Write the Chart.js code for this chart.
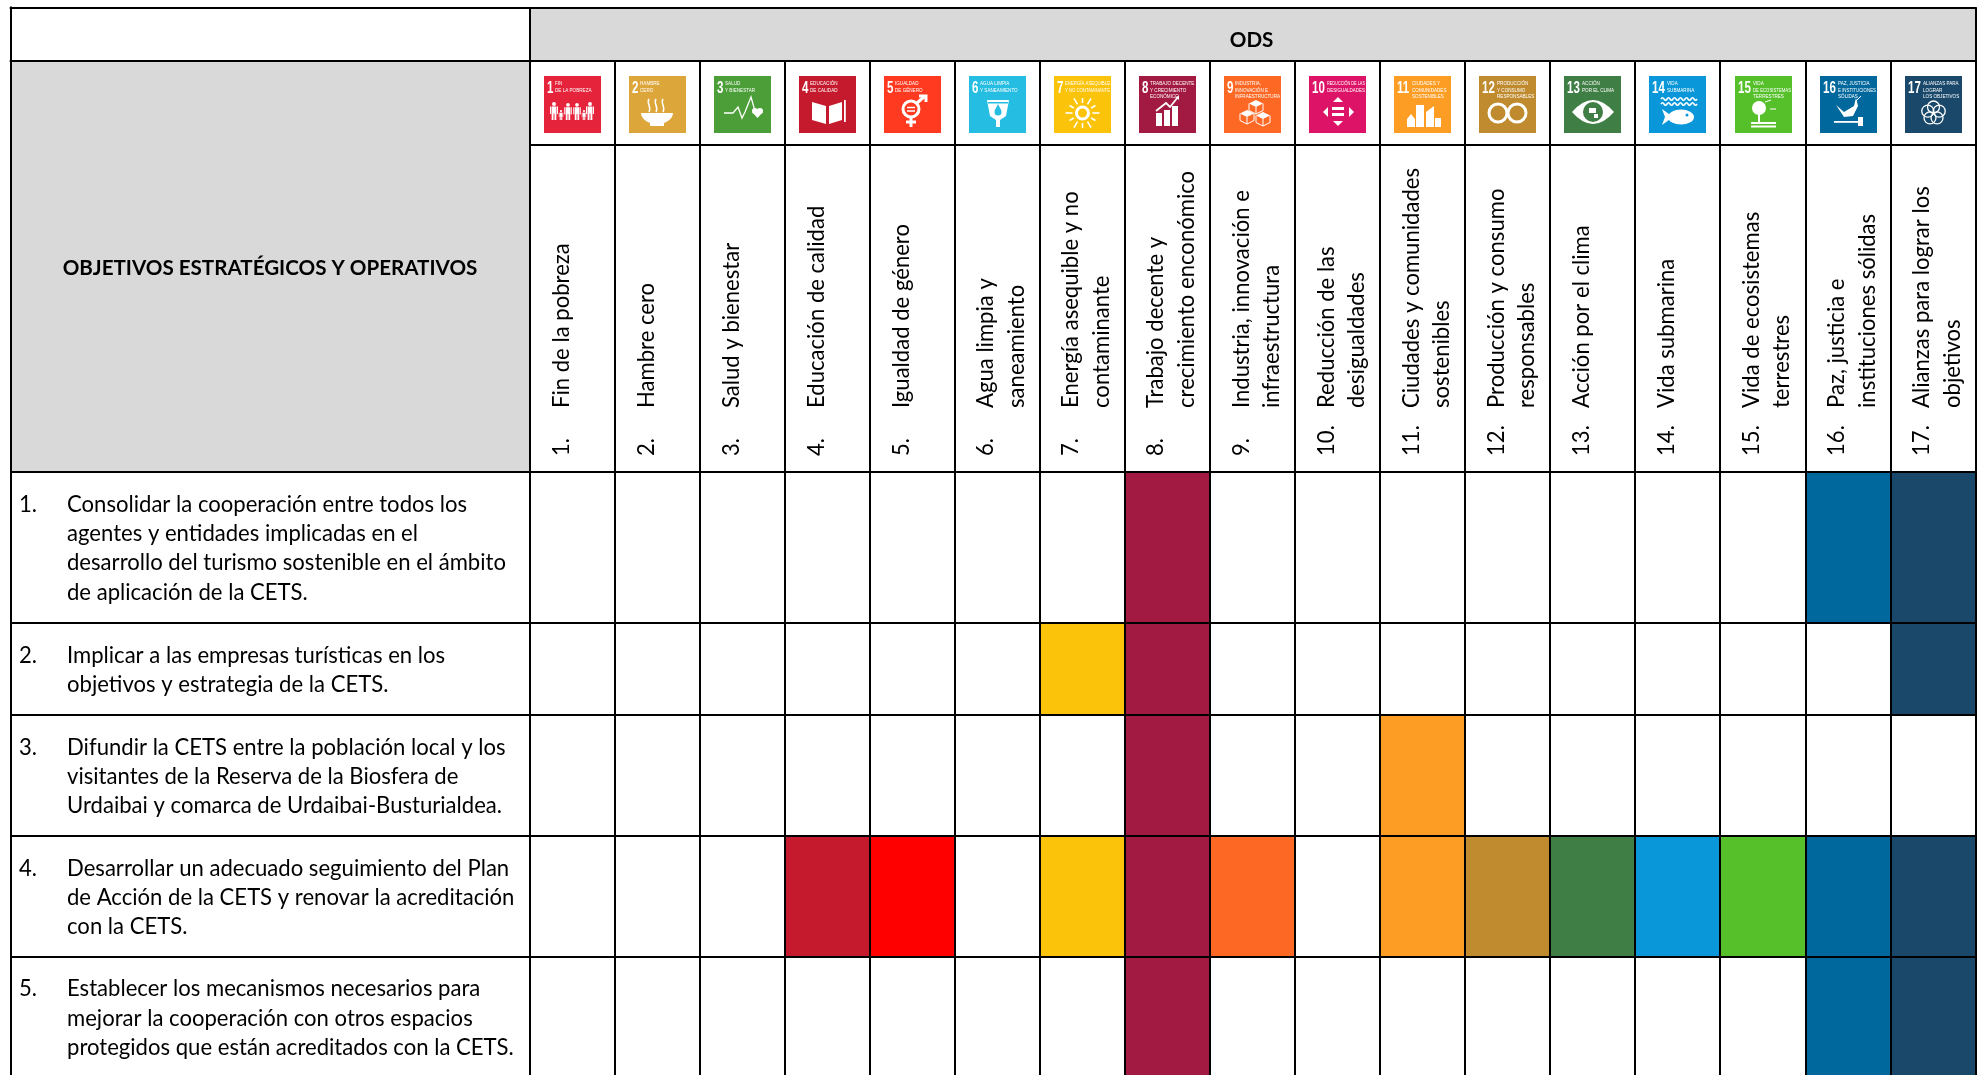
<!DOCTYPE html>
<html lang="es">
<head>
<meta charset="utf-8">
<title>ODS y objetivos estratégicos</title>
<style>html,body{margin:0;padding:0;background:#fff}canvas{display:block}</style>
<script src="https://cdn.jsdelivr.net/npm/chart.js@4"></script>
</head>
<body>
<canvas id="c" width="1981" height="1075"></canvas>
<script>
const goalNumbers = ['1','2','3','4','5','6','7','8','9','10','11','12','13','14','15','16','17'];
const goalNames = [
  ['Fin de la pobreza'],['Hambre cero'],['Salud y bienestar'],['Educación de calidad'],['Igualdad de género'],
  ['Agua limpia y','saneamiento'],['Energía asequible y no','contaminante'],['Trabajo decente y','crecimiento enconómico'],
  ['Industria, innovación e','infraestructura'],['Reducción de las','desigualdades'],['Ciudades y comunidades','sostenibles'],
  ['Producción y consumo','responsables'],['Acción por el clima'],['Vida submarina'],['Vida de ecosistemas','terrestres'],
  ['Paz, justicia e','instituciones sólidas'],['Alianzas para lograr los','objetivos']
];
const iconLabels = [
  ['FIN','DE LA POBREZA'],['HAMBRE','CERO'],['SALUD','Y BIENESTAR'],['EDUCACIÓN','DE CALIDAD'],['IGUALDAD','DE GÉNERO'],
  ['AGUA LIMPIA','Y SANEAMIENTO'],['ENERGÍA ASEQUIBLE','Y NO CONTAMINANTE'],['TRABAJO DECENTE','Y CRECIMIENTO','ECONÓMICO'],
  ['INDUSTRIA,','INNOVACIÓN E','INFRAESTRUCTURA'],['REDUCCIÓN DE LAS','DESIGUALDADES'],['CIUDADES Y','COMUNIDADES','SOSTENIBLES'],
  ['PRODUCCIÓN','Y CONSUMO','RESPONSABLES'],['ACCIÓN','POR EL CLIMA'],['VIDA','SUBMARINA'],['VIDA','DE ECOSISTEMAS','TERRESTRES'],
  ['PAZ, JUSTICIA','E INSTITUCIONES','SÓLIDAS'],['ALIANZAS PARA','LOGRAR','LOS OBJETIVOS']
];
const iconColors = ['#E5243B','#DDA63A','#4C9F38','#C5192D','#FF3A21','#26BDE2','#FCC30B','#A21942','#FD6925','#DD1367','#FD9D24','#BF8B2E','#3F7E44','#0A97D9','#56C02B','#00689D','#19486A'];
const cellColors = ['#E5243B','#DDA63A','#4C9F38','#C5192D','#FF0000','#26BDE2','#FCC30B','#A21942','#FD6925','#DD1367','#FD9D24','#BF8B2E','#3F7E44','#0A97D9','#56C02B','#00689D','#19486A'];
const objectiveLines = [
  ['Consolidar la cooperación entre todos los','agentes y entidades implicadas en el','desarrollo del turismo sostenible en el ámbito','de aplicación de la CETS.'],
  ['Implicar a las empresas turísticas en los','objetivos y estrategia de la CETS.'],
  ['Difundir la CETS entre la población local y los','visitantes de la Reserva de la Biosfera de','Urdaibai y comarca de Urdaibai-Busturialdea.'],
  ['Desarrollar un adecuado seguimiento del Plan','de Acción de la CETS y renovar la acreditación','con la CETS.'],
  ['Establecer los mecanismos necesarios para','mejorar la cooperación con otros espacios','protegidos que están acreditados con la CETS.']
];
const rowHeights = [151, 92.3, 121, 120.7, 121];
const visibleHeight = 603.3;
const objective1Goals = [8,16,17];
const objective2Goals = [7,8,17];
const objective3Goals = [8,11];
const objective4Goals = [4,5,7,8,9,11,12,13,14,15,16,17];
const objective5Goals = [8,16,17];
const objectiveGoals = [objective1Goals,objective2Goals,objective3Goals,objective4Goals,objective5Goals];
const odsTitle = 'ODS';
const sideTitle = 'OBJETIVOS ESTRATÉGICOS Y OPERATIVOS';

const rowEdges = rowHeights.reduce((a,h)=>{a.push(a[a.length-1]+h);return a;},[0]);
const BODY_FONT = '22.1px Lato';
const BOLD_FONT = 'bold 20.6px Lato';

function poly(c,pts,fill){c.beginPath();pts.forEach((p,i)=>i?c.lineTo(p[0],p[1]):c.moveTo(p[0],p[1]));if(fill){c.closePath();c.fill();}else c.stroke();}
function person(c,x,top,h){const r=h*.11,w=h*.13;c.beginPath();c.arc(x,top+r,r,0,7);c.fill();c.fillRect(x-w,top+2*r+.5,2*w,h*.4);c.fillRect(x-w,top+2*r+h*.4,w*.8,h*.38);c.fillRect(x+w*.2,top+2*r+h*.4,w*.8,h*.38);c.fillRect(x-w*1.7,top+2*r+.5,w*.5,h*.42);c.fillRect(x+w*1.2,top+2*r+.5,w*.5,h*.42);}
function ring(c,x,y,r,lw){c.lineWidth=lw;c.beginPath();c.arc(x,y,r,0,7);c.stroke();}
const iconGlyphs = [
 c=>{person(c,10,26,18);person(c,17,34,10);person(c,24,27,17);person(c,33,27,17);person(c,40,34,10);person(c,46,26,18);},
 c=>{c.lineWidth=1.5;[20,27,34].forEach(x=>{c.beginPath();c.moveTo(x,23);c.bezierCurveTo(x-3,27,x+3,31,x,36);c.stroke();});
     c.beginPath();c.ellipse(28,37,16,11,0,0,Math.PI);c.fill();c.fillRect(21,46,14,4);},
 (c,col)=>{c.lineWidth=1.3;poly(c,[[10,37],[19,37],[24,31],[28,42],[31,36],[37,21],[41,35]]);c.beginPath();c.arc(41,35,3,0,7);c.arc(46,35,3,0,7);c.fill();poly(c,[[38,36],[49,36],[43.5,42]],true);},
 c=>{c.lineWidth=1.4;poly(c,[[13,26],[27,30],[27,48],[13,44]],true);poly(c,[[30,30],[43,26],[43,44],[30,48]],true);c.fillStyle='#C5192D';c.fillRect(27,30,3,18);c.fillStyle='#fff';c.fillRect(45,24,1.8,22);},
 c=>{ring(c,27,33,8,3);c.lineWidth=3;poly(c,[[27,41],[27,51]]);poly(c,[[22,46],[32,46]]);poly(c,[[33,27],[41,20]]);poly(c,[[35,20],[42,20],[42,26]]);c.lineWidth=1.5;poly(c,[[23,31.5],[31,31.5]]);poly(c,[[23,35],[31,35]]);},
 (c)=>{poly(c,[[18,24],[40,24],[37,40],[31,44],[31,51],[27,51],[27,44],[21,40]],true);c.fillStyle='#26BDE2';c.fillRect(19,26,20,1.5);c.beginPath();c.arc(29,36,3.5,0,7);c.fill();poly(c,[[29,28],[26,34],[32,34]],true);},
 c=>{ring(c,28.5,37,6,3);c.lineWidth=1.6;for(let i=0;i<12;i++){const a=i*Math.PI/6;poly(c,[[28.5+10*Math.cos(a),37+10*Math.sin(a)],[28.5+(i%2?15:17)*Math.cos(a),37+(i%2?15:17)*Math.sin(a)]]);}},
 c=>{c.fillRect(17,37,6,13);c.fillRect(25,34,6,16);c.fillRect(33,30,6,20);c.lineWidth=1.8;poly(c,[[17,35],[27,27],[31,31],[39,21]]);poly(c,[[36,21],[40,20],[40,24]],true);},
 c=>{c.lineWidth=1;const cube=(x,y,s)=>{poly(c,[[x,y-s],[x+s,y-s/2],[x,y],[x-s,y-s/2]],true);poly(c,[[x-s,y-s/2],[x-s,y+s/2],[x,y+s],[x+s,y+s/2],[x+s,y-s/2]]);poly(c,[[x,y],[x,y+s]]);};cube(32,31,7);cube(23,41,7);cube(39,43,7);},
 c=>{poly(c,[[29,21],[24,26],[34,26]],true);poly(c,[[29,50],[24,45],[34,45]],true);poly(c,[[14,36],[19,31],[19,41]],true);poly(c,[[45,36],[40,31],[40,41]],true);c.fillRect(23,31,12,3);c.fillRect(23,37,12,3);},
 c=>{c.fillRect(22,29,8,22);c.fillRect(32,36,8,15);c.fillRect(41,42,6,9);c.fillRect(13,43,8,8);poly(c,[[13,43],[17,38],[21,43]],true);poly(c,[[32,36],[40,30],[40,36]],true);},
 c=>{ring(c,19,37,9,3);ring(c,38,37,9,3);},
 (c)=>{c.beginPath();c.moveTo(8,36);c.quadraticCurveTo(29,12,50,36);c.quadraticCurveTo(29,60,8,36);c.fill();c.fillStyle='#3F7E44';c.beginPath();c.arc(29,36,10,0,7);c.fill();c.fillStyle='#fff';c.fillRect(25,32,7,5);c.fillRect(30,38,4,4);},
 (c)=>{c.lineWidth=1.6;[23,28].forEach(y=>{c.beginPath();c.moveTo(12,y);for(let x=12;x<44;x+=6)c.quadraticCurveTo(x+1.5,y-2.5,x+3,y),c.quadraticCurveTo(x+4.5,y+2.5,x+6,y);c.stroke();});
     c.beginPath();c.ellipse(32,41,13,7.5,0,0,7);c.fill();poly(c,[[13,33],[24,41],[13,49],[16,41]],true);c.fillStyle='#0A97D9';c.beginPath();c.arc(38,39,1.5,0,7);c.fill();},
 c=>{c.beginPath();c.arc(24,32,7,0,7);c.fill();c.fillRect(23,36,2,10);c.fillRect(16,46,25,2);c.fillRect(16,49.5,25,2);c.lineWidth=1;poly(c,[[30,26],[36,24]]);poly(c,[[35,33],[41,33]]);},
 c=>{poly(c,[[16,29],[24,36],[34,30],[36,22],[38,30],[33,40],[24,41]],true);c.fillRect(14,45,24,1.8);c.fillRect(38,41,5,9);c.lineWidth=1;poly(c,[[35,26],[41,20]]);},
 c=>{for(let i=0;i<5;i++){const a=-Math.PI/2+i*2*Math.PI/5;ring(c,28.5+6*Math.cos(a),37+6*Math.sin(a),6,1.3);}}
];

function hRule(ctx,x0,x1,y){ctx.fillRect(x0,Math.round(y)-1,x1-x0,2);}
function vRule(ctx,x,y0,y1){ctx.fillRect(Math.round(x)-1,y0,2,y1-y0);}

const tablePlugin = {
  id:'table',
  beforeDatasetsDraw(chart){
    const {ctx,chartArea:a}=chart;
    ctx.save();
    ctx.fillStyle='#D9D9D9';
    ctx.fillRect(a.left,7.5,a.right-a.left,53.5);
    ctx.fillRect(10.7,61,a.left-10.7,a.top-61);
    ctx.restore();
  },
  afterDraw(chart){
    const {ctx,chartArea:a,scales:{x,y}}=chart;
    const L=10.7, cw=(a.right-a.left)/goalNumbers.length, T=[7.5,61,144.5];
    ctx.save();
    ctx.fillStyle='#000';
    hRule(ctx,L-1,a.right+1,T[0]);hRule(ctx,L-1,a.right+1,T[1]);hRule(ctx,a.left,a.right+1,T[2]);
    vRule(ctx,L,T[0]-1,chart.height);vRule(ctx,a.left,T[0],a.top);vRule(ctx,a.right,T[0],a.top);
    goalNumbers.forEach((_,i)=>{vRule(ctx,x.getPixelForValue(i)+cw/2,T[1],a.top);});
    rowEdges.slice(0,-1).forEach(v=>hRule(ctx,L,a.left,y.getPixelForValue(v)));
    ctx.textBaseline='alphabetic';
    ctx.font=BOLD_FONT;ctx.textAlign='center';
    ctx.fillText(odsTitle,(a.left+a.right)/2-1,47);
    ctx.fillText(sideTitle,270,275);
    ctx.textAlign='left';ctx.font=BODY_FONT;
    objectiveLines.forEach((lines,r)=>{
      const c=y.getPixelForValue((rowEdges[r]+rowEdges[r+1])/2);
      lines.forEach((t,j)=>{
        const b=c+(j-(lines.length-1)/2)*29.3+8.5;
        if(j===0)ctx.fillText((r+1)+'.',19,b);
        ctx.fillText(t,67,b);
      });
    });
    goalNumbers.forEach((n,i)=>{
      const cx=x.getPixelForValue(i), left=cx-cw/2;
      ctx.save();
      ctx.translate(Math.round(cx-28.5),76);
      ctx.fillStyle=iconColors[i];ctx.fillRect(0,0,57,57);
      ctx.fillStyle='#fff';ctx.strokeStyle='#fff';ctx.lineCap='butt';
      ctx.textAlign='left';
      ctx.save();ctx.translate(3,17);ctx.scale(.72,1);
      ctx.font='bold 16px "Liberation Sans"';ctx.fillText(n,0,0);ctx.restore();
      ctx.font='4.6px "Liberation Sans"';
      const tx=n.length>1?18:11;
      iconLabels[i].forEach((t,j)=>ctx.fillText(t,tx,9+j*6.5,56-tx));
      iconGlyphs[i](ctx);
      ctx.restore();
      const names=goalNames[i], single=names.length===1;
      ctx.fillStyle='#000';ctx.font=BODY_FONT;ctx.textAlign='left';
      const put=(t,px,py)=>{ctx.save();ctx.translate(px,py);ctx.rotate(-Math.PI/2);ctx.fillText(t,0,0);ctx.restore();};
      const b0=left+(single?39:38.5);
      put(n+'.',b0,456);
      names.forEach((t,j)=>put(t,j?left+69:b0,408));
    });
    ctx.restore();
  }
};

new Chart(document.getElementById('c'),{
  type:'bar',
  data:{
    labels:goalNumbers,
    datasets:objectiveGoals.map((goals,r)=>({
      label:'Objetivo '+(r+1),
      data:goalNumbers.map((n,i)=>goals.includes(i+1)?[rowEdges[r],rowEdges[r+1]]:null),
      backgroundColor:cellColors,
      borderWidth:0,
      barPercentage:1,
      categoryPercentage:1,
      grouped:false
    }))
  },
  plugins:[tablePlugin],
  options:{
    responsive:false,
    animation:false,
    devicePixelRatio:1,
    layout:{padding:{left:529.5,right:5.3,top:471.7,bottom:0}},
    plugins:{legend:{display:false},tooltip:{enabled:false},title:{display:false}},
    scales:{
      x:{type:'category',offset:true,
         grid:{display:true,offset:true,color:'#000',lineWidth:2,drawTicks:false,tickLength:0,z:1},
         border:{display:false},ticks:{display:false}},
      y:{type:'linear',reverse:true,min:0,max:visibleHeight,
         afterBuildTicks:s=>{s.ticks=rowEdges.slice(0,-1).map(v=>({value:v}));},
         grid:{display:true,color:'#000',lineWidth:2,drawTicks:false,tickLength:0,z:1},
         border:{display:false},ticks:{display:false}}
    }
  }
});
</script>
</body>
</html>
